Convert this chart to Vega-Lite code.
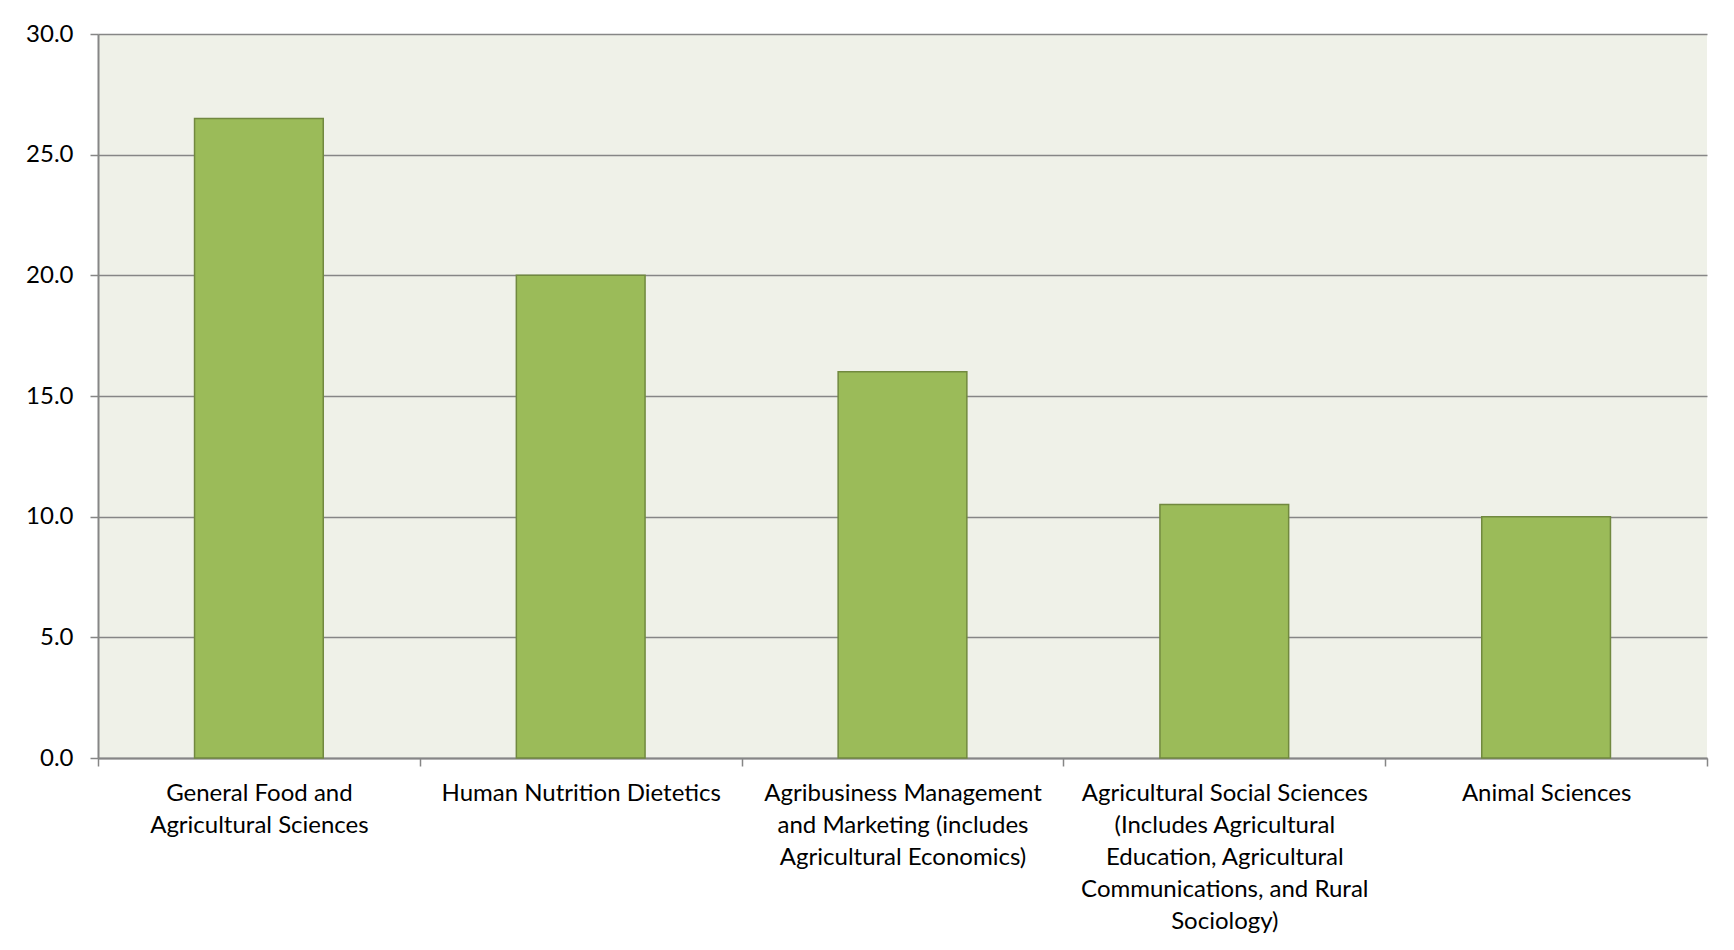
{
  "$schema": "https://vega.github.io/schema/vega-lite/v6.json",
  "autosize": {"type": "none"},
  "width": 1609,
  "height": 724,
  "padding": {"left": 98, "top": 34, "right": 27, "bottom": 192},
  "background": "white",
  "config": {
    "view": {"fill": "#eff1e8", "stroke": null},
    "font": "Lato"
  },
  "data": {
    "values": [
      {"field": "General Food and|Agricultural Sciences", "value": 26.5},
      {"field": "Human Nutrition Dietetics", "value": 20.0},
      {"field": "Agribusiness Management|and Marketing (includes|Agricultural Economics)", "value": 16.0},
      {"field": "Agricultural Social Sciences|(Includes Agricultural|Education, Agricultural|Communications, and Rural|Sociology)", "value": 10.5},
      {"field": "Animal Sciences", "value": 10.0}
    ]
  },
  "mark": {"type": "bar", "fill": "#9bbb59", "stroke": "#71893f", "strokeWidth": 1.5, "width": {"band": 0.4}},
  "encoding": {
    "x": {
      "field": "field",
      "type": "nominal",
      "sort": null,
      "scale": {"paddingInner": 0, "paddingOuter": 0},
      "axis": {
        "title": null,
        "labelAngle": 0,
        "labelExpr": "split(datum.label, '|')",
        "labelFontSize": 24,
        "labelColor": "#000000",
        "labelLineHeight": 32,
        "labelPadding": 15,
        "labelBaseline": "top",
        "labelLimit": 400,
        "tickBand": "extent",
        "tickSize": 8,
        "tickWidth": 1.5,
        "tickColor": "#868686",
        "domainColor": "#868686",
        "domainWidth": 2,
        "grid": false
      }
    },
    "y": {
      "field": "value",
      "type": "quantitative",
      "scale": {"domain": [0, 30], "nice": false},
      "axis": {
        "title": null,
        "values": [0, 5, 10, 15, 20, 25, 30],
        "format": ".1f",
        "labelFontSize": 24,
        "labelColor": "#000000",
        "labelPadding": 17,
        "tickSize": 8,
        "tickWidth": 1.5,
        "tickColor": "#868686",
        "domainColor": "#868686",
        "domainWidth": 2,
        "grid": true,
        "gridColor": "#868686",
        "gridWidth": 1.5
      }
    }
  }
}
